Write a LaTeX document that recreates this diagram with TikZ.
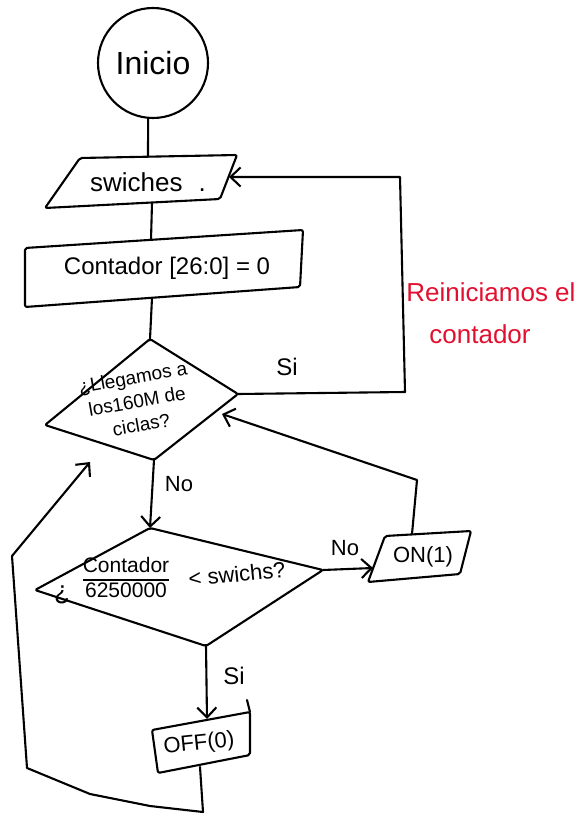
\documentclass[tikz,border=0pt]{standalone}
\usepackage{fontspec}
\setmainfont{Liberation Sans}
\usetikzlibrary{arrows.meta,calc}
\definecolor{redink}{RGB}{226,16,48}
\begin{document}
\begin{tikzpicture}[x=1pt,y=-1pt,line width=2.1pt,line join=round,line cap=round,
  shapeline/.style={draw=black,line width=2.1pt,rounded corners=2pt},
  flow/.style={draw,-{Straight Barb[length=10pt,width=19pt]}},
  tmid/.style={inner sep=0pt,font=\fontsize{24}{24}\selectfont},
  tsmall/.style={inner sep=0pt,font=\fontsize{19}{24}\selectfont},
  tlbl/.style={inner sep=0pt,font=\fontsize{22}{22}\selectfont},
  tnote/.style={inner sep=0pt,text=redink,font=\fontsize{26}{26}\selectfont}]
\useasboundingbox (0,0) rectangle (581,821);

% Inicio
\node[draw,circle,minimum size=110pt,inner sep=0pt,font=\fontsize{32}{32}\selectfont] (ini) at (153,63) {Inicio};

% swiches (input)
\coordinate (sw1) at (80,158);
\coordinate (sw2) at (237,155);
\coordinate (sw3) at (220,199);
\coordinate (sw4) at (45,208);
\draw[shapeline] (sw1) -- (sw2) -- (sw3) -- (sw4) -- cycle;
\node[inner sep=0pt,font=\fontsize{26}{26}\selectfont] (swt) at (148,182) {swiches\hspace{16pt}.};
\coordinate (swT) at (148,156.5);
\coordinate (swB) at (152,203);
\coordinate (swR) at (229,177);

% Contador
\coordinate (ct1) at (25,248);
\coordinate (ct2) at (303,230);
\coordinate (ct3) at (300,287);
\coordinate (ct4) at (25,307);
\draw[shapeline] (ct1) -- (ct2) -- (ct3) -- (ct4) -- cycle;
\node[tmid] (ctt) at (167,268) {Contador [26:0] = 0};
\coordinate (ctT) at (151,240);
\coordinate (ctB) at (152,298);

% Decision 1
\coordinate (d1t) at (150,339);
\coordinate (d1r) at (238,394);
\coordinate (d1b) at (154,460);
\coordinate (d1l) at (45,425);
\draw[shapeline] (d1t) -- (d1r) -- (d1b) -- (d1l) -- cycle;
\node[tsmall,align=center,rotate=10] (d1txt) at (137,401) {¿Llegamos a\\los160M de\\ciclas?};

% Decision 2
\coordinate (d2t) at (150,528);
\coordinate (d2r) at (323,570);
\coordinate (d2b) at (206,646);
\coordinate (d2l) at (35,590);
\draw[shapeline] (d2t) -- (d2r) -- (d2b) -- (d2l) -- cycle;
\node[inner sep=0pt,font=\fontsize{26}{26}\selectfont] (d2q) at (62,595) {¿};
\node[inner sep=0pt,font=\fontsize{21}{22}\selectfont] (d2frac) at (126,580)
  {\setlength{\arrayrulewidth}{1.8pt}\renewcommand{\arraystretch}{1.05}%
   \begin{tabular}{@{}c@{}}Contador\\\hline 6250000\end{tabular}};
\node[tlbl,rotate=6] (d2txt) at (237,574) {< swichs?};

% ON(1)
\coordinate (on1) at (385,536);
\coordinate (on2) at (471,531);
\coordinate (on3) at (460,574);
\coordinate (on4) at (368,582);
\draw[shapeline] (on1) -- (on2) -- (on3) -- (on4) -- cycle;
\node[tlbl] (ontxt) at (423,557) {ON(1)};
\coordinate (onL) at (373,568);
\coordinate (onT) at (412,534);

% OFF(0)
\coordinate (of1) at (152,730);
\coordinate (of2) at (250,712);
\coordinate (of3) at (250,755);
\coordinate (of4) at (158,773);
\coordinate (ofTick) at (247,700);
\draw[shapeline] (of1) -- (of2) -- (of3) -- (of4) -- cycle;
\draw (ofTick) -- (of2);
\node[tlbl,rotate=6] (offtxt) at (199,744) {OFF(0)};
\coordinate (ofT) at (207,719);
\coordinate (ofB) at (200,767);

% connectors
\draw (ini.265) -- (swT);
\draw (swB) -- (ctT);
\draw (ctB) -- (d1t);

\coordinate (siC1) at (405,392);
\coordinate (siC2) at (400,177);
\draw[flow] (d1r) -- (siC1) -- (siC2) -- (swR);
\node[tmid] (si1) at (287,367) {Si};

\node[tnote] (note1) at (491,292) {Reiniciamos el};
\node[tnote] (note2) at (480,334) {contador};

\draw[flow] (d1b) -- (d2t);
\node[tlbl] (no1) at (179,484) {No};

\draw[flow] (d2r) -- (onL);
\node[tlbl] (no2) at (345,548) {No};

\coordinate (onC) at (417,480);
\coordinate (onEnd) at (222,414);
\draw[flow] (onT) -- (onC) -- (onEnd);

\draw[flow] (d2b) -- (ofT);
\node[tmid] (si2) at (234,676) {Si};

\coordinate (lp1) at (203,812);
\coordinate (lp2) at (150,806);
\coordinate (lp3) at (90,794);
\coordinate (lp4) at (27,768);
\coordinate (lp5) at (12,556);
\coordinate (loopEnd) at (90,462);
\draw[flow] (ofB) -- (lp1) -- (lp2) -- (lp3) -- (lp4) -- (lp5) -- (loopEnd);
\end{tikzpicture}
\end{document}
